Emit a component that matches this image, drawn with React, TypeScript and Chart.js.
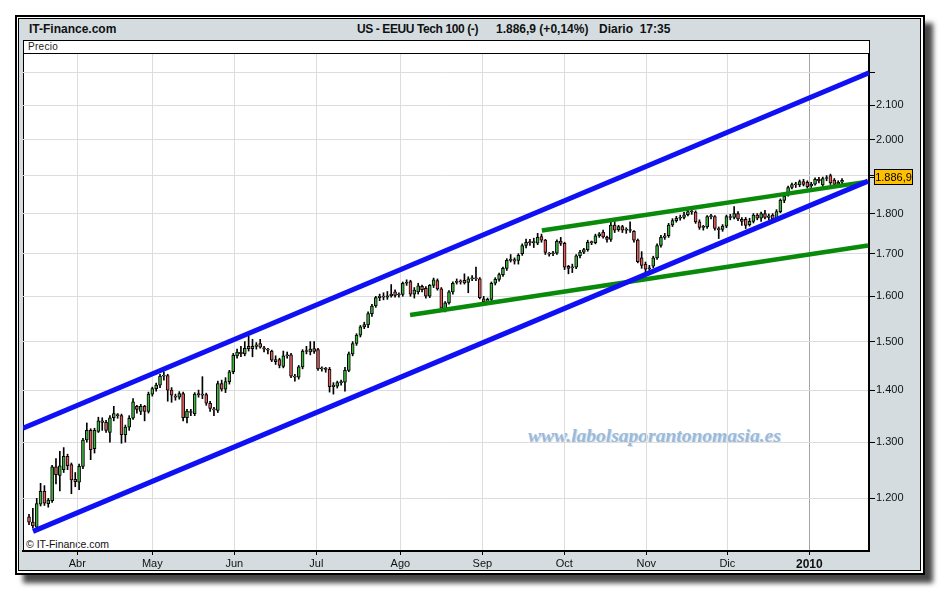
import React, { useEffect, useRef } from 'react';
import { Chart, registerables } from 'chart.js';

Chart.register(...registerables);

// Daily candles (trading-day index 0..211), Nasdaq-100 style index
const openP = [1169,1160,1152,1190,1212,1191,1196,1255,1240,1250,1274,1259,1233,1228,1256,1304,1322,1288,1320,1340,1337,1318,1346,1352,1350,1314,1328,1345,1368,1358,1368,1358,1392,1403,1410,1428,1429,1400,1388,1386,1393,1346,1358,1354,1392,1391,1391,1374,1363,1360,1413,1402,1417,1437,1470,1478,1474,1490,1485,1490,1496,1487,1484,1480,1458,1462,1448,1470,1472,1428,1426,1447,1480,1478,1485,1483,1443,1444,1442,1407,1408,1415,1416,1440,1474,1496,1514,1532,1536,1561,1578,1597,1600,1598,1601,1610,1603,1604,1630,1634,1605,1610,1623,1618,1600,1625,1636,1617,1572,1585,1610,1632,1634,1637,1632,1640,1642,1640,1594,1588,1593,1630,1639,1650,1665,1684,1686,1684,1700,1720,1728,1727,1726,1742,1733,1700,1700,1701,1731,1725,1670,1666,1668,1695,1704,1710,1728,1727,1744,1753,1740,1735,1771,1759,1767,1758,1759,1755,1733,1690,1675,1664,1670,1690,1720,1740,1744,1771,1782,1788,1790,1797,1806,1804,1779,1765,1766,1792,1792,1762,1760,1768,1792,1790,1800,1785,1785,1772,1780,1796,1788,1800,1790,1796,1788,1805,1834,1848,1868,1876,1875,1884,1882,1872,1877,1890,1875,1892,1900,1888,1877,1882];
const highP = [1173,1183,1200,1226,1222,1200,1258,1270,1283,1290,1278,1262,1245,1260,1307,1336,1325,1326,1347,1346,1341,1350,1368,1354,1353,1332,1350,1383,1370,1372,1370,1396,1406,1414,1432,1437,1432,1405,1392,1397,1396,1362,1362,1395,1400,1427,1394,1378,1366,1418,1420,1425,1440,1475,1484,1490,1500,1512,1505,1498,1505,1490,1486,1482,1470,1465,1480,1478,1475,1432,1450,1483,1490,1500,1500,1486,1447,1446,1446,1415,1418,1420,1446,1478,1500,1517,1535,1542,1565,1582,1600,1605,1608,1611,1627,1615,1608,1633,1638,1637,1620,1630,1626,1622,1627,1642,1640,1620,1588,1613,1633,1640,1638,1652,1645,1648,1668,1643,1600,1596,1633,1643,1654,1668,1688,1698,1690,1700,1724,1736,1735,1738,1750,1748,1735,1703,1706,1734,1740,1728,1672,1675,1698,1708,1713,1733,1731,1748,1752,1758,1743,1780,1780,1770,1770,1764,1779,1757,1736,1705,1680,1672,1694,1724,1745,1750,1775,1787,1793,1796,1803,1812,1810,1807,1784,1770,1795,1798,1795,1766,1772,1796,1798,1818,1805,1790,1790,1788,1800,1800,1804,1808,1799,1800,1810,1838,1848,1872,1880,1882,1888,1890,1886,1882,1894,1895,1896,1900,1904,1892,1886,1892];
const lowP = [1156,1150,1148,1187,1188,1185,1193,1225,1213,1245,1250,1208,1220,1215,1252,1300,1268,1280,1318,1322,1318,1300,1340,1345,1298,1300,1322,1343,1355,1352,1340,1355,1388,1398,1405,1420,1378,1376,1380,1382,1340,1336,1350,1350,1386,1383,1370,1358,1350,1356,1398,1395,1412,1433,1465,1468,1470,1480,1468,1484,1486,1478,1474,1458,1452,1445,1445,1465,1425,1418,1422,1443,1474,1472,1475,1440,1438,1436,1396,1392,1404,1410,1398,1437,1470,1492,1510,1528,1530,1555,1575,1590,1592,1593,1598,1598,1598,1600,1625,1600,1596,1605,1610,1596,1597,1620,1614,1570,1565,1582,1605,1628,1628,1628,1608,1636,1636,1594,1582,1582,1588,1626,1635,1646,1660,1680,1675,1675,1696,1714,1720,1715,1722,1728,1698,1694,1695,1698,1720,1662,1652,1655,1664,1690,1700,1706,1722,1724,1740,1738,1728,1730,1752,1755,1752,1750,1752,1728,1678,1665,1655,1656,1666,1686,1716,1735,1740,1767,1778,1783,1786,1794,1798,1775,1760,1758,1762,1786,1758,1737,1755,1764,1784,1786,1782,1770,1762,1768,1776,1784,1780,1786,1784,1780,1785,1802,1828,1845,1864,1868,1870,1872,1866,1868,1874,1880,1870,1886,1876,1870,1874,1878];
const closeP = [1160,1154,1191,1212,1192,1197,1255,1241,1257,1274,1257,1232,1229,1256,1304,1322,1286,1322,1340,1337,1322,1346,1354,1350,1314,1328,1345,1377,1362,1368,1358,1392,1403,1410,1428,1429,1400,1390,1386,1393,1346,1359,1356,1392,1391,1390,1374,1364,1361,1413,1402,1417,1437,1471,1478,1474,1486,1485,1490,1493,1488,1484,1482,1461,1462,1450,1470,1472,1428,1426,1447,1480,1479,1484,1479,1443,1444,1442,1407,1410,1415,1416,1440,1474,1496,1514,1532,1537,1561,1578,1597,1600,1598,1601,1605,1602,1604,1630,1632,1605,1614,1624,1615,1600,1625,1638,1617,1573,1585,1610,1630,1634,1633,1631,1640,1642,1640,1597,1588,1593,1630,1639,1650,1665,1684,1686,1682,1696,1720,1728,1727,1728,1740,1733,1703,1699,1702,1730,1725,1668,1665,1668,1695,1704,1710,1728,1727,1744,1749,1741,1735,1771,1758,1767,1758,1760,1757,1733,1681,1672,1663,1666,1690,1720,1740,1744,1771,1782,1788,1790,1797,1805,1804,1779,1765,1766,1792,1793,1762,1759,1768,1792,1790,1800,1786,1780,1770,1780,1796,1788,1800,1790,1794,1786,1805,1835,1845,1868,1876,1875,1884,1876,1870,1877,1890,1886,1892,1893,1880,1876,1882,1886.9];

// Axis ticks
const monthLabels = ['Abr', 'May', 'Jun', 'Jul', 'Ago', 'Sep', 'Oct', 'Nov', 'Dic', '2010'];
const monthTickIndex = [12.54, 32.0, 53.28, 74.57, 96.37, 117.65, 138.93, 160.21, 181.24, 202.51];
const priceTicks = [1200, 1300, 1400, 1500, 1600, 1700, 1800, 1900, 2000, 2100, 2200];
const lastPrice = 1886.9;

// Trend lines drawn on the chart (index, price)
const channelUpper = [{ x: -1.56, y: 1326 }, { x: 218, y: 2199 }];
const channelLower = [{ x: 1.04, y: 1145 }, { x: 217.75, y: 1885 }];
const wedgeUpper = [{ x: 133.1, y: 1757 }, { x: 217.2, y: 1883 }];
const wedgeLower = [{ x: 98.9, y: 1558 }, { x: 217.75, y: 1720 }];

const FONT = '"Liberation Sans", Arial, sans-serif';

function fmtThousands(v: number): string {
  const s = String(Math.round(v));
  return s.length > 3 ? s.slice(0, -3) + '.' + s.slice(-3) : s;
}
function fmtPrice(v: number): string {
  const whole = Math.floor(v);
  const dec = Math.round((v - whole) * 10);
  return fmtThousands(whole) + ',' + dec;
}

const priceTag = {
  id: 'priceTag',
  afterDraw(chart: any) {
    const ctx = chart.ctx;
    const yScale = chart.scales.y;
    const right = chart.chartArea.right;
    const y = Math.round(yScale.getPixelForValue(lastPrice)) - 3;
    ctx.save();
    ctx.strokeStyle = '#000';
    ctx.lineWidth = 1;
    ctx.beginPath();
    ctx.moveTo(right + 1, y + 0.5);
    ctx.lineTo(right + 6, y + 0.5);
    ctx.stroke();
    ctx.fillStyle = '#ffc000';
    ctx.fillRect(right + 5.5, y - 7.5, 38, 15);
    ctx.strokeRect(right + 5.5, y - 7.5, 38, 15);
    ctx.fillStyle = '#000';
    ctx.font = '11px ' + FONT;
    ctx.textBaseline = 'middle';
    ctx.textAlign = 'center';
    ctx.fillText(fmtPrice(lastPrice), right + 24.5, y + 1);
    ctx.restore();
  },
};

function CandleChart() {
  const ref = useRef<HTMLCanvasElement | null>(null);
  useEffect(() => {
    if (!ref.current) return;
    const idx = closeP.map((_, i) => i);
    const bodyColors = closeP.map((c, i) => (c >= openP[i] ? '#3cb43c' : '#e25c5c'));
    const lineDs = (data: any, color: string, width: number) => ({
      type: 'line' as const,
      data,
      borderColor: color,
      borderWidth: width,
      pointRadius: 0,
      borderCapStyle: 'butt' as const,
      fill: false,
      order: 0,
    });
    const chart = new Chart(ref.current, {
      type: 'bar',
      data: {
        datasets: [
          lineDs(channelUpper, '#1010f5', 5),
          lineDs(channelLower, '#1010f5', 5),
          lineDs(wedgeUpper, '#0a8a0a', 4.5),
          lineDs(wedgeLower, '#0a8a0a', 4.5),
          {
            type: 'bar',
            data: idx.map((i) => ({ x: i, y: [openP[i], closeP[i]] })),
            backgroundColor: bodyColors,
            borderColor: '#000',
            borderWidth: 1,
            borderSkipped: false,
            barThickness: 3,
            minBarLength: 1,
            grouped: false,
            order: 5,
          } as any,
          {
            type: 'bar',
            data: idx.map((i) => ({ x: i, y: [lowP[i], highP[i]] })),
            backgroundColor: '#000',
            borderWidth: 0,
            barThickness: 1,
            grouped: false,
            order: 6,
          } as any,
        ],
      },
      options: {
        responsive: false,
        animation: false,
        layout: { padding: { left: 23, top: 54, right: 0, bottom: 0 } },
        plugins: { legend: { display: false }, tooltip: { enabled: false } },
        scales: {
          x: {
            type: 'linear',
            min: -1.56,
            max: 218,
            offset: false,
            bounds: 'data',
            grid: {
              offset: false,
              color: (c: any) => (monthLabels[c.index] === '2010' ? '#a4a4a4' : '#dddddd'),
              lineWidth: 1,
              drawTicks: true,
              tickLength: 4,
              tickColor: '#000',
              tickWidth: 1,
            },
            border: { color: '#000', width: 2 },
            ticks: {
              autoSkip: false,
              maxRotation: 0,
              minRotation: 0,
              padding: 2,
              color: '#111',
              font: (c: any) =>
                monthLabels[c.index] === '2010'
                  ? { family: FONT, size: 12, weight: 'bold' }
                  : { family: FONT, size: 11, weight: 'normal' },
              callback: (_v: any, i: number) => monthLabels[i],
            },
            afterBuildTicks: (s: any) => {
              s.ticks = monthTickIndex.map((v) => ({ value: v }));
            },
            afterFit: (s: any) => {
              s.height = 39;
            },
          } as any,
          y: {
            type: 'logarithmic',
            position: 'right',
            min: 1113.4,
            max: 2259,
            bounds: 'data',
            grid: {
              color: '#dddddd',
              lineWidth: 1,
              drawTicks: true,
              tickLength: 6,
              tickColor: '#000',
              tickWidth: 1,
            },
            border: { color: '#000', width: 2 },
            ticks: {
              autoSkip: false,
              padding: 1,
              color: '#111',
              font: { family: FONT, size: 11 },
              callback: (v: any) => (Number(v) >= 2200 ? '' : fmtThousands(Number(v))),
            },
            afterBuildTicks: (s: any) => {
              s.ticks = priceTicks.map((v) => ({ value: v }));
            },
            afterFit: (s: any) => {
              s.width = 71;
            },
          } as any,
        },
      },
      plugins: [priceTag],
    });
    return () => chart.destroy();
  }, []);
  return (
    <canvas
      ref={ref}
      width={940}
      height={590}
      style={{ position: 'absolute', left: 0, top: 0, width: 940, height: 590 }}
    />
  );
}

export default function App() {
  const hdr: React.CSSProperties = {
    position: 'absolute',
    top: 22,
    fontFamily: FONT,
    fontWeight: 'bold',
    fontSize: 12,
    lineHeight: '14px',
    color: '#111',
    whiteSpace: 'pre',
  };
  return (
    <div style={{ position: 'fixed', left: 0, top: 0, width: 940, height: 590, background: '#fff', overflow: 'hidden' }}>
      <div
        style={{
          position: 'absolute', left: 15, top: 15, width: 910, height: 560, boxSizing: 'border-box',
          border: '2px solid #000', background: '#fff', boxShadow: '8px 8px 5px rgba(0,0,0,0.72)',
        }}
      />
      <div
        style={{
          position: 'absolute', left: 18, top: 18, width: 903, height: 553, boxSizing: 'border-box',
          border: '1px solid #000', background: '#d4dce0',
        }}
      />
      <div
        style={{
          position: 'absolute', left: 23, top: 40, width: 847, height: 512, boxSizing: 'border-box',
          border: '1px solid #000', background: '#fff',
        }}
      />
      <div style={{ position: 'absolute', left: 23, top: 53, width: 847, height: 1, background: '#000' }} />
      <div style={{ ...hdr, left: 29 }}>IT-Finance.com</div>
      <div style={{ ...hdr, left: 357, letterSpacing: '-0.4px' }}>US - EEUU Tech 100 (-)</div>
      <div style={{ ...hdr, left: 496 }}>1.886,9 (+0,14%)</div>
      <div style={{ ...hdr, left: 599 }}>Diario  17:35</div>
      <div
        style={{
          position: 'absolute', left: 28, top: 40, fontFamily: FONT, fontSize: 10, lineHeight: '13px',
          color: '#222', letterSpacing: '0.3px',
        }}
      >
        Precio
      </div>
      <div
        style={{
          position: 'absolute', left: 26, top: 537, fontFamily: FONT, fontSize: 10.5, lineHeight: '14px', color: '#111',
        }}
      >
        © IT-Finance.com
      </div>
      <div
        style={{
          position: 'absolute', left: 528, top: 425, fontFamily: '"Liberation Serif", "Times New Roman", serif',
          fontStyle: 'italic', fontWeight: 'bold', fontSize: 19.5, lineHeight: '22px', color: '#9bb9d8',
          textShadow: '1px 1px 0 #d6e2ee', whiteSpace: 'nowrap',
        }}
      >
        www.labolsaporantonomasia.es
      </div>
      <CandleChart />
    </div>
  );
}
